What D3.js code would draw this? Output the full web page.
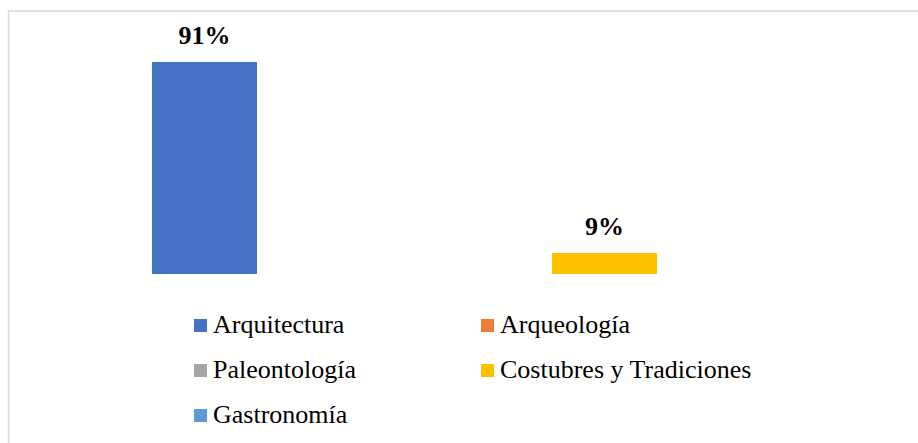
<!DOCTYPE html>
<html>
<head>
<meta charset="utf-8">
<script src="https://cdn.jsdelivr.net/npm/d3@7"></script>
<style>
  html, body { margin: 0; padding: 0; background: #fff; }
  svg { display: block; }
</style>
</head>
<body>
<div id="chart"></div>
<script>
// series (one bar each), values in percent
const categories = ['Arquitectura', 'Arqueología', 'Paleontología', 'Costubres y Tradiciones', 'Gastronomía'];
const values = [91, 0, 0, 9, 0];
const colors = ['#4472C4', '#ED7D31', '#A5A5A5', '#FFC000', '#5B9BD5'];

const width = 918;
const height = 443;
const fontFamily = "'Liberation Serif', 'Times New Roman', 'DejaVu Serif', serif";

const svg = d3.select('#chart')
  .append('svg')
  .attr('width', width)
  .attr('height', height);

// chart frame (right and bottom edges fall outside the picture)
svg.append('rect')
  .attr('x', 8.5)
  .attr('y', 11)
  .attr('width', 920)
  .attr('height', 440)
  .attr('fill', 'none')
  .attr('stroke', '#d9d9d9')
  .attr('stroke-width', 1.5);

const x = d3.scaleBand()
  .domain(categories)
  .range([137.8, 804.5])
  .paddingInner(0.2125)
  .paddingOuter(0.10625);

const y = d3.scaleLinear()
  .domain([0, 100])
  .range([274, 41]);

const data = categories.map((c, i) => ({ name: c, value: values[i], color: colors[i] }));

svg.append('g')
  .selectAll('rect')
  .data(data.filter(d => d.value > 0))
  .join('rect')
  .attr('x', d => x(d.name))
  .attr('y', d => y(d.value))
  .attr('width', x.bandwidth())
  .attr('height', d => y(0) - y(d.value))
  .attr('fill', d => d.color);

// value labels
svg.append('g')
  .selectAll('text')
  .data(data.filter(d => d.value > 0))
  .join('text')
  .attr('x', d => x(d.name) + x.bandwidth() / 2)
  .attr('y', d => y(d.value) - 18)
  .attr('text-anchor', 'middle')
  .attr('font-family', fontFamily)
  .attr('font-size', 26)
  .attr('font-weight', 'bold')
  .attr('fill', '#000')
  .text(d => d.value + '%');

// legend, two columns
const legendCols = [194, 481];
const legendRows = [333, 378, 423];
const box = 13;

const item = svg.append('g')
  .selectAll('g')
  .data(data)
  .join('g')
  .attr('transform', (d, i) => `translate(${legendCols[i % 2]},${legendRows[Math.floor(i / 2)]})`);

item.append('rect')
  .attr('x', 0)
  .attr('y', -box - 1)
  .attr('width', box)
  .attr('height', box)
  .attr('fill', d => d.color);

item.append('text')
  .attr('x', box + 6)
  .attr('y', 0)
  .attr('font-family', fontFamily)
  .attr('font-size', 26)
  .attr('fill', '#000')
  .text(d => d.name);
</script>
</body>
</html>
